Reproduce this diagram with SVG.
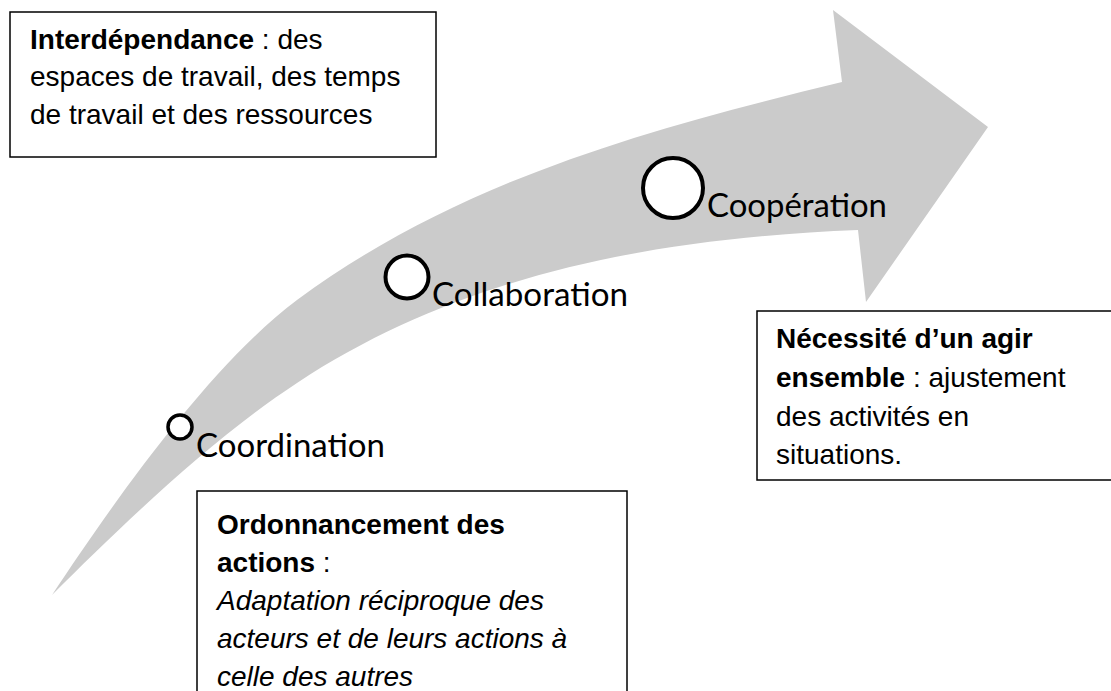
<svg xmlns="http://www.w3.org/2000/svg" width="1111" height="691" viewBox="0 0 1111 691">
<style>
.box{fill:#ffffff;stroke:#000000;stroke-width:1.5}
.bt{font-family:"Liberation Sans",Arial,sans-serif;font-size:28px;fill:#000000}
.b{font-weight:bold}
.i{font-style:italic}
.dot{fill:#ffffff;stroke:#000000;stroke-width:4}
.lbl{font-family:Lato,"Open Sans",sans-serif;font-size:33px;fill:#000000}
</style>
<rect width="1111" height="691" fill="#ffffff"/>
<g id="arrow">
<path d="M 52,595 C 113,503 209,366 297,300 C 458,181 648,129 842,82 L 833,10 L 988,127 L 866,302 L 858,230 C 658,238 464,273 297,383 C 213,438 123,524 52,595 Z" fill="#cbcbcb"/>
</g>
<g id="connectors"></g>
<g id="interdependance">
<rect class="box" x="10" y="12" width="426" height="145"/>
<text class="bt" x="30" y="48.5"><tspan class="b">Interdépendance</tspan> : des</text>
<text class="bt" x="30" y="86">espaces de travail, des temps</text>
<text class="bt" x="30" y="123.5">de travail et des ressources</text>
</g>
<g id="necessite">
<rect class="box" x="757" y="311" width="360" height="169"/>
<text class="bt" x="776" y="348"><tspan class="b">Nécessité d’un agir</tspan></text>
<text class="bt" x="776" y="387"><tspan class="b">ensemble</tspan> : ajustement</text>
<text class="bt" x="776" y="425.5">des activités en</text>
<text class="bt" x="776" y="464">situations.</text>
</g>
<g id="ordonnancement">
<rect class="box" x="197" y="491" width="430" height="215"/>
<text class="bt" x="217" y="534"><tspan class="b">Ordonnancement des</tspan></text>
<text class="bt" x="217" y="572"><tspan class="b">actions</tspan> :</text>
<text class="bt i" x="217" y="610">Adaptation réciproque des</text>
<text class="bt i" x="217" y="648">acteurs et de leurs actions à</text>
<text class="bt i" x="217" y="686">celle des autres</text>
</g>
<g id="coordination">
<circle class="dot" cx="180" cy="427" r="12" style="stroke-width:3.5"/>
<text class="lbl" x="196" y="457" textLength="189" lengthAdjust="spacingAndGlyphs">Coordination</text>
</g>
<g id="collaboration">
<circle class="dot" cx="407" cy="277" r="21.5"/>
<text class="lbl" x="432" y="306" textLength="196" lengthAdjust="spacingAndGlyphs">Collaboration</text>
</g>
<g id="cooperation">
<circle class="dot" cx="673" cy="188" r="30"/>
<text class="lbl" x="707" y="217" textLength="180" lengthAdjust="spacingAndGlyphs">Coopération</text>
</g>
</svg>
